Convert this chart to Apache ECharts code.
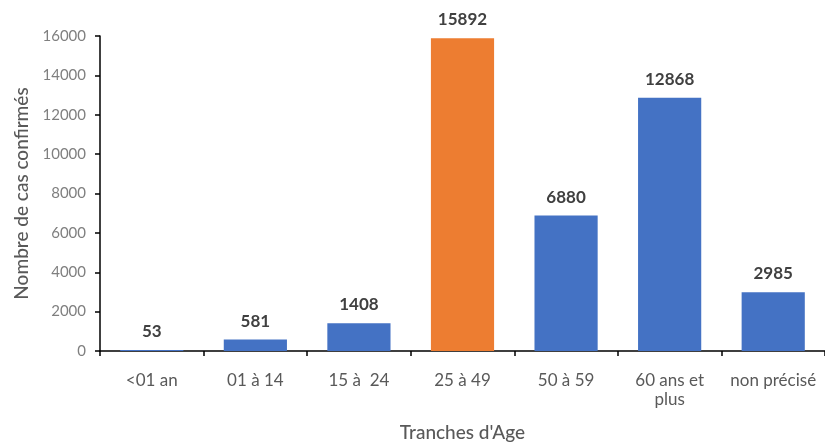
<!DOCTYPE html>
<html><head><meta charset="utf-8">
<script src="https://cdn.jsdelivr.net/npm/echarts@6/dist/echarts.min.js"></script>
<style>html,body{margin:0;padding:0;background:#fff}#c{width:825px;height:447px}</style>
</head><body><div id="c"></div>
<script>
var categories = ['<01 an', '01 à 14', '15 à  24', '25 à 49', '50 à 59', '60 ans et\nplus', 'non précisé'];
var values = [53, 581, 1408, 15892, 6880, 12868, 2985];
var highlightIndex = 3;
var yTicks = [0, 2000, 4000, 6000, 8000, 10000, 12000, 14000, 16000];
var FONT = 'Lato';
var chart = echarts.init(document.getElementById('c'));
chart.setOption({
  animation: false,
  textStyle: {fontFamily: FONT},
  grid: {left: 100, right: 0, top: 36, bottom: 93, containLabel: false},
  xAxis: {
    type: 'category', data: categories,
    name: "Tranches d'Age", nameLocation: 'middle', nameGap: 72,
    nameTextStyle: {fontFamily: FONT, fontSize: 19, color: '#595959', fontWeight: 500},
    axisLine: {lineStyle: {color: '#000', width: 1.5}},
    axisTick: {show: true, alignWithLabel: false, length: 5, lineStyle: {color: '#000', width: 1.5}},
    axisLabel: {fontFamily: FONT, fontSize: 17, color: '#595959', margin: 20, lineHeight: 19, interval: 0}
  },
  yAxis: {
    type: 'value', min: yTicks[0], max: yTicks[yTicks.length - 1], interval: 2000,
    name: 'Nombre de cas confirmés', nameLocation: 'middle', nameGap: 68, nameRotate: 90,
    nameTextStyle: {fontFamily: FONT, fontSize: 19, color: '#595959', fontWeight: 500},
    axisLine: {show: true, lineStyle: {color: '#000', width: 1.5}},
    axisTick: {show: true, length: 5, lineStyle: {color: '#000', width: 1.5}},
    axisLabel: {fontFamily: FONT, fontSize: 15, color: '#7f7f7f', margin: 14, formatter: function (v) { return String(v); }},
    splitLine: {show: false}
  },
  series: [{
    type: 'bar', barWidth: '61%',
    data: values.map(function (v, i) {
      return {value: v, itemStyle: {color: i === highlightIndex ? '#ED7D31' : '#4472C4'}};
    }),
    label: {show: true, position: 'top', distance: 10, fontFamily: FONT, fontSize: 17, fontWeight: 'bold', color: '#404040'}
  }]
});
</script></body></html>
